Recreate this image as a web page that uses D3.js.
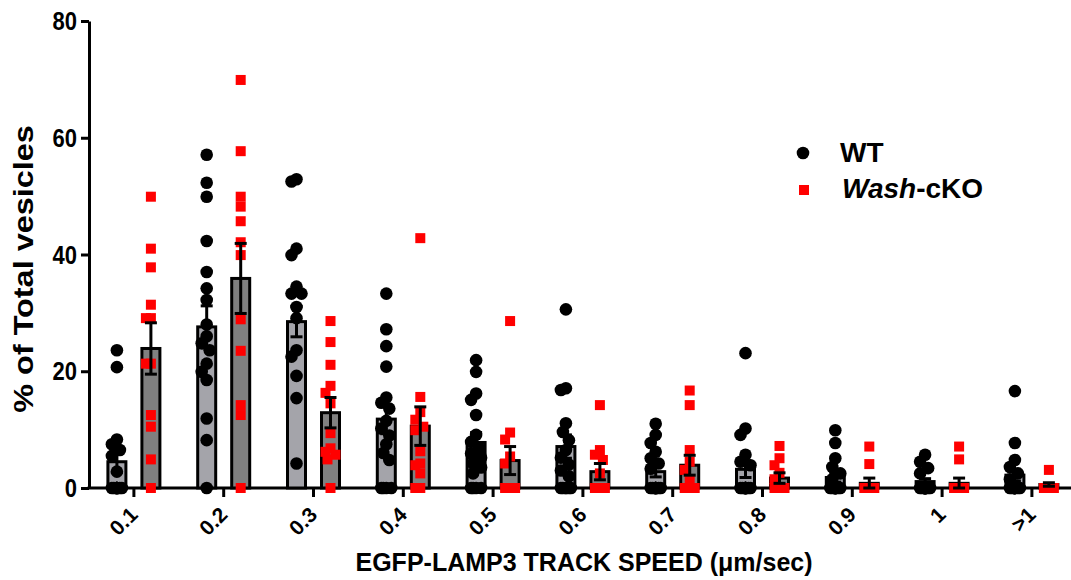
<!DOCTYPE html>
<html>
<head>
<meta charset="utf-8">
<script src="https://cdn.jsdelivr.net/npm/d3@7"></script>
<style>
  html, body { margin: 0; padding: 0; background: #fff; }
  svg text { font-family: "Liberation Sans", Arial, sans-serif; font-weight: bold; }
</style>
</head>
<body>
<svg id="chart" width="1071" height="580"></svg>
<script>
// ---------- data ----------
const categories = ["0.1", "0.2", "0.3", "0.4", "0.5", "0.6", "0.7", "0.8", "0.9", "1", ">1"];
const series = ["WT", "Wash-cKO"];
const yTicks = [0, 20, 40, 60, 80];

const wtMean = [4.5, 27.6, 28.5, 11.8, 7.8, 7.1, 2.8, 3.2, 1.8, 1.1, 2.2];
const wtSem  = [1.8, 3.6, 2.6, 2.5, 1.7, 2.0, 0.9, 1.4, 0.8, 0.5, 1.0];
const koMean = [23.9, 35.9, 12.9, 10.6, 4.7, 2.8, 3.9, 1.7, 0.8, 0.8, 0.6];
const koSem  = [4.4, 6.0, 2.6, 3.3, 2.4, 1.4, 1.7, 0.9, 0.9, 0.9, 0.3];

const wtPoints = [
  [23.6, 20.7, 8.3, 7.5, 6.5, 5.5, 2.8, 0, 0, 0, 0, 0, 0, 0, 0, 0, 0],
  [57.1, 52.3, 49.9, 42.3, 37.0, 34.2, 32.2, 28.0, 26.0, 24.8, 23.6, 21.3, 19.9, 18.5, 11.9, 8.2, 0],
  [52.9, 52.5, 41.0, 39.9, 34.5, 33.3, 33.3, 31.0, 29.1, 23.6, 22.5, 19.2, 15.4, 4.2],
  [33.3, 27.2, 24.3, 20.8, 15.5, 14.6, 13.6, 11.5, 10.2, 9.0, 7.5, 6.0, 4.8, 0, 0, 0, 0],
  [21.9, 19.9, 16.2, 15.1, 12.5, 9.1, 7.9, 6.8, 5.9, 5.2, 4.2, 3.5, 2.5, 0, 0, 0, 0],
  [30.6, 17.1, 16.8, 11.1, 9.6, 8.2, 6.5, 5.2, 4.0, 3.0, 2.0, 0, 0, 0, 0, 0, 0],
  [11.0, 9.1, 7.7, 6.2, 5.1, 4.2, 3.3, 0, 0, 0, 0, 0, 0, 0, 0, 0, 0],
  [23.1, 10.2, 9.1, 5.7, 4.5, 3.9, 0, 0, 0, 0, 0, 0, 0, 0, 0, 0, 0],
  [9.9, 7.7, 5.1, 3.6, 2.5, 1.5, 0, 0, 0, 0, 0, 0, 0, 0, 0, 0, 0],
  [5.7, 4.5, 3.4, 2.5, 0, 0, 0, 0, 0, 0, 0, 0, 0, 0, 0, 0, 0],
  [16.6, 7.7, 4.8, 3.6, 2.5, 1.5, 0, 0, 0, 0, 0, 0, 0, 0, 0, 0, 0]
];
const koPoints = [
  [49.9, 41.0, 37.8, 31.4, 29.1, 29.1, 21.3, 21.3, 12.5, 10.5, 4.9, 0],
  [69.9, 57.7, 49.9, 48.2, 45.7, 42.1, 39.9, 28.9, 23.5, 14.2, 12.5, 0],
  [28.6, 25.0, 21.1, 17.5, 16.3, 14.5, 9.4, 6.8, 6.2, 5.7, 4.9, 0],
  [42.8, 15.6, 13.0, 11.7, 10.5, 9.9, 6.3, 4.2, 3.9, 2.5, 0, 0],
  [28.6, 9.5, 8.3, 5.4, 4.2, 0, 0, 0, 0, 0, 0, 0],
  [14.2, 6.5, 5.7, 4.8, 2.5, 0, 0, 0, 0, 0, 0, 0],
  [16.7, 14.2, 6.5, 4.5, 3.1, 1.5, 0, 0, 0, 0, 0, 0],
  [7.2, 5.1, 3.9, 2.6, 1.5, 0, 0, 0, 0, 0, 0, 0],
  [7.1, 4.1, 0, 0, 0, 0, 0, 0, 0, 0, 0, 0],
  [7.1, 4.9, 0, 0, 0, 0, 0, 0, 0, 0, 0, 0],
  [3.1, 0, 0, 0, 0, 0, 0, 0, 0, 0, 0, 0]
];

// ---------- layout ----------
const svg = d3.select("#chart");
const plotLeft = 89, plotBottom = 488, plotTop = 21;
const groupW = 89.8;

const x = d3.scaleBand().domain(categories).range([plotLeft, plotLeft + groupW * categories.length]).padding(0);
const xSub = d3.scaleBand().domain(series).range([-34, 34]).padding(0);
const y = d3.scaleLinear().domain([0, 80]).range([plotBottom, plotTop]);

const barW = 18;
const colors = { "WT": "#a4a4aa", "Wash-cKO": "#808080" };

// axes
const yAxis = svg.append("g").attr("transform", `translate(${plotLeft},0)`)
  .call(d3.axisLeft(y).tickValues(yTicks).tickSize(8).tickSizeOuter(0).tickPadding(4));
yAxis.select(".domain").attr("stroke", "#000").attr("stroke-width", 3);
yAxis.selectAll(".tick line").attr("stroke", "#000").attr("stroke-width", 3);
yAxis.selectAll(".tick text")
  .attr("font-size", 22).attr("fill", "#000")
  .attr("dy", "0.34em").attr("x", -12)
  .attr("transform", "scale(1,1.15)");

const xAxis = svg.append("g").attr("transform", `translate(0,${plotBottom})`)
  .call(d3.axisBottom(x).tickSize(9).tickSizeOuter(0));
xAxis.select(".domain").attr("stroke", "#000").attr("stroke-width", 3)
  .attr("d", `M${plotLeft - 1.5},0H1071`);
xAxis.selectAll(".tick line").attr("stroke", "#000").attr("stroke-width", 3);
xAxis.selectAll(".tick text")
  .attr("font-size", 21).attr("fill", "#000")
  .attr("text-anchor", "end")
  .attr("y", 0).attr("dy", 0)
  .attr("transform", "translate(5,28) rotate(-45)");

// bars
const barData = [];
categories.forEach((c, i) => {
  barData.push({ c, s: "WT", m: wtMean[i], e: wtSem[i], pts: wtPoints[i] });
  barData.push({ c, s: "Wash-cKO", m: koMean[i], e: koSem[i], pts: koPoints[i] });
});
const cx = d => x(d.c) + x.bandwidth() / 2 + xSub(d.s) + xSub.bandwidth() / 2;

svg.append("g").selectAll("rect").data(barData).join("rect")
  .attr("x", d => cx(d) - barW / 2)
  .attr("width", barW)
  .attr("y", d => y(d.m))
  .attr("height", d => y(0) - y(d.m))
  .attr("fill", d => colors[d.s])
  .attr("stroke", "#000").attr("stroke-width", 3);

// points with a narrow dodge
const r = 6.3, sq = 10;
function dodge(values, cxv) {
  const offs = [0, -3, 3, -5, 5];
  const placed = [];
  const sorted = values.slice().sort((a, b) => b - a);
  sorted.forEach(v => {
    const py = y(v);
    let best = 0, bestD = -1;
    for (const o of offs) {
      let dmin = Infinity;
      for (const p of placed) {
        const dd = Math.hypot(p.x - (cxv + o), p.y - py);
        if (dd < dmin) dmin = dd;
      }
      if (dmin >= 9) { best = o; bestD = dmin; break; }
      if (dmin > bestD) { bestD = dmin; best = o; }
    }
    placed.push({ x: cxv + best, y: py, v });
  });
  return placed;
}

const ptsG = svg.append("g");
barData.forEach(d => {
  const pl = dodge(d.pts, cx(d));
  if (d.s === "WT") {
    ptsG.append("g").selectAll("circle").data(pl).join("circle")
      .attr("cx", p => p.x).attr("cy", p => p.y).attr("r", r).attr("fill", "#000");
  } else {
    ptsG.append("g").selectAll("rect").data(pl).join("rect")
      .attr("x", p => p.x - sq / 2).attr("y", p => p.y - sq / 2)
      .attr("width", sq).attr("height", sq).attr("fill", "#ff0000");
  }
});

// error bars
const errG = svg.append("g").attr("stroke", "#000").attr("stroke-width", 3);
barData.forEach(d => {
  const xc = cx(d);
  const hi = y(d.m + d.e), lo = y(Math.max(0, d.m - d.e));
  errG.append("line").attr("x1", xc).attr("x2", xc).attr("y1", hi).attr("y2", lo);
  errG.append("line").attr("x1", xc - 6).attr("x2", xc + 6).attr("y1", hi).attr("y2", hi);
  errG.append("line").attr("x1", xc - 6).attr("x2", xc + 6).attr("y1", lo).attr("y2", lo);
});

// titles
svg.append("text")
  .attr("transform", "translate(33,269) scale(1,1.2) rotate(-90)")
  .attr("text-anchor", "middle").attr("font-size", 27).attr("fill", "#000")
  .text("% of Total vesicles");

svg.append("text")
  .attr("x", 584).attr("y", 571)
  .attr("text-anchor", "middle").attr("font-size", 25).attr("fill", "#000")
  .text("EGFP-LAMP3 TRACK SPEED (μm/sec)");

// legend
const lg = svg.append("g");
lg.append("circle").attr("cx", 803).attr("cy", 153).attr("r", 6.3).attr("fill", "#000");
lg.append("text").attr("x", 840).attr("y", 162).attr("font-size", 28).attr("fill", "#000").text("WT");
lg.append("rect").attr("x", 799).attr("y", 185).attr("width", 10).attr("height", 10).attr("fill", "#ff0000");
const t2 = lg.append("text").attr("x", 842).attr("y", 198).attr("font-size", 28).attr("fill", "#000");
t2.append("tspan").attr("font-style", "italic").text("Wash");
t2.append("tspan").text("-cKO");
</script>
</body>
</html>
